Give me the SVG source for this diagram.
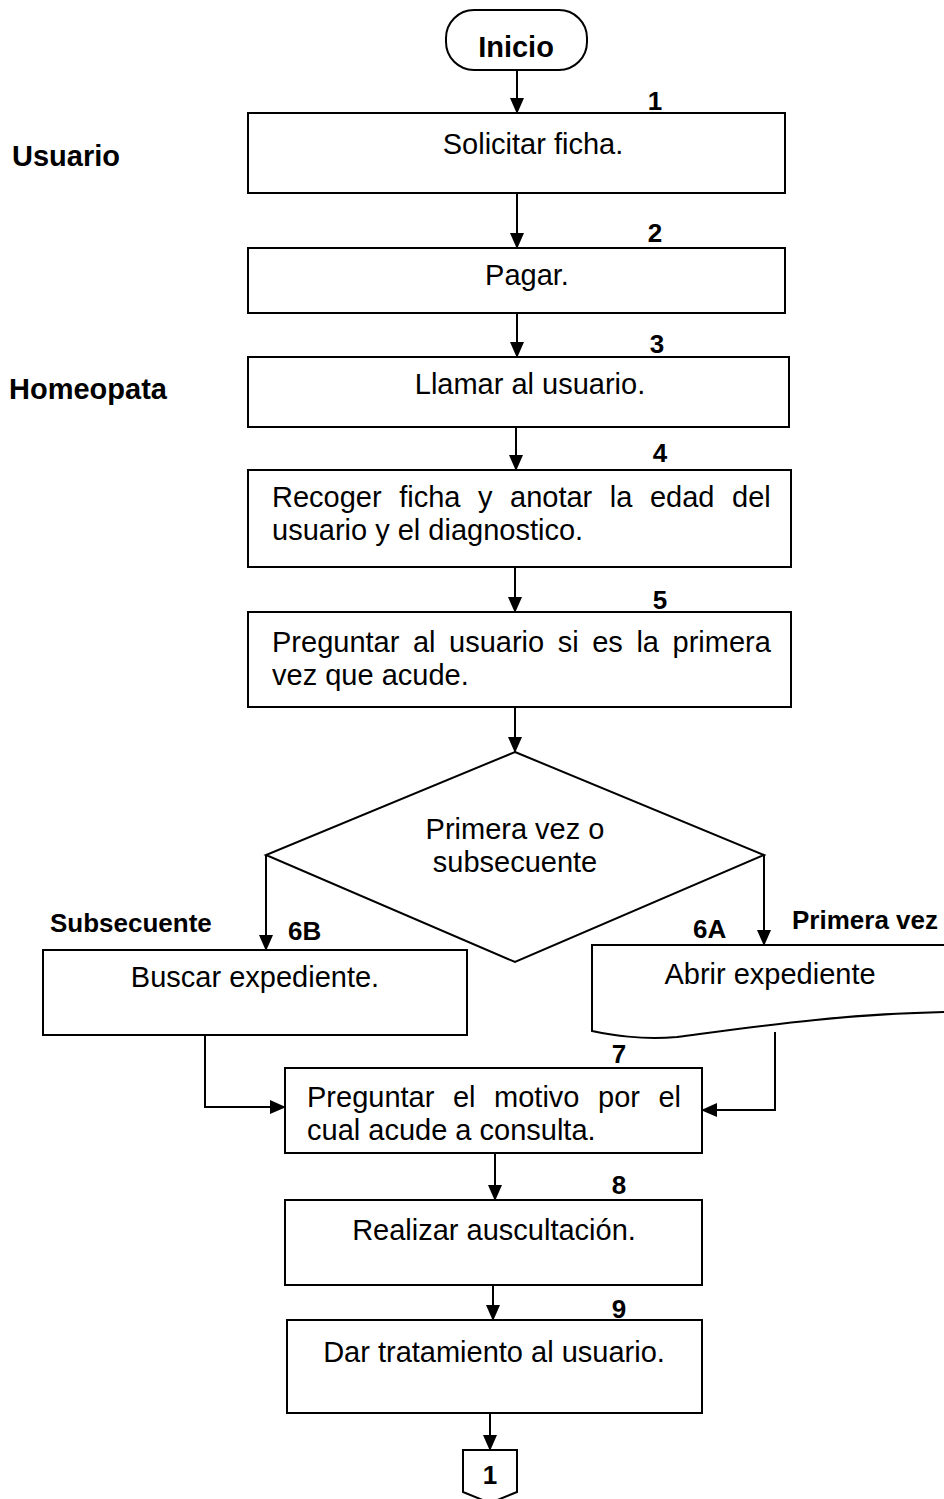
<svg xmlns="http://www.w3.org/2000/svg" width="944" height="1499" viewBox="0 0 944 1499">
<defs>
<marker id="arr" markerWidth="14" markerHeight="16" refX="15" refY="7" orient="auto" markerUnits="userSpaceOnUse">
<path d="M0,0 L16,7 L0,14 Z" fill="#000"/>
</marker>
<style>
.box{fill:#fff;stroke:#000;stroke-width:2}
.t{font-family:"Liberation Sans",Arial,sans-serif;font-size:29px;fill:#000}
.m{text-anchor:middle}
.b{font-family:"Liberation Sans",Arial,sans-serif;font-size:29px;font-weight:bold;fill:#000}
.n{font-size:26px}
.c{fill:none;stroke:#000;stroke-width:2}
</style>
</defs>
<rect width="944" height="1499" fill="#fff"/>

<g id="lanes">
<text class="b" x="12" y="166">Usuario</text>
<text class="b" x="9" y="399">Homeopata</text>
</g>

<g id="inicio">
<rect class="box" x="446" y="10" width="141" height="60" rx="28" ry="28"/>
<text class="b m" x="516" y="57">Inicio</text>
</g>

<g id="n1">
<rect class="box" x="248" y="113" width="537" height="80"/>
<text class="b m n" x="655" y="110">1</text>
<text class="t m" x="533" y="154">Solicitar ficha.</text>
</g>

<g id="n2">
<rect class="box" x="248" y="248" width="537" height="65"/>
<text class="b m n" x="655" y="242">2</text>
<text class="t m" x="527" y="285">Pagar.</text>
</g>

<g id="n3">
<rect class="box" x="248" y="357" width="541" height="70"/>
<text class="b m n" x="657" y="353">3</text>
<text class="t m" x="530" y="394">Llamar al usuario.</text>
</g>

<g id="n4">
<rect class="box" x="248" y="470" width="543" height="97"/>
<text class="b m n" x="660" y="462">4</text>
<text class="t" x="272" y="507" style="word-spacing:9.5px">Recoger ficha y anotar la edad del</text>
<text class="t" x="272" y="540">usuario y el diagnostico.</text>
</g>

<g id="n5">
<rect class="box" x="248" y="612" width="543" height="95"/>
<text class="b m n" x="660" y="609">5</text>
<text class="t" x="272" y="652" style="word-spacing:5.5px">Preguntar al usuario si es la primera</text>
<text class="t" x="272" y="685">vez que acude.</text>
</g>

<g id="decision">
<polygon class="box" points="515,752 764,855 515,962 266,855"/>
<text class="t m" x="515" y="839">Primera vez o</text>
<text class="t m" x="515" y="872">subsecuente</text>
</g>

<g id="n6b">
<rect class="box" x="43" y="950" width="424" height="85"/>
<text class="b" x="50" y="932" style="font-size:26px">Subsecuente</text>
<text class="b n" x="288" y="940">6B</text>
<text class="t m" x="255" y="987">Buscar expediente.</text>
</g>

<g id="n6a">
<path class="box" d="M592,945 H950 V1012 C840,1014 760,1026 677,1037 C640,1040 612,1035 592,1031 Z"/>
<text class="b n" x="693" y="938">6A</text>
<text class="b" x="792" y="929" style="font-size:26px">Primera vez</text>
<text class="t m" x="770" y="984">Abrir expediente</text>
</g>

<g id="n7">
<rect class="box" x="285" y="1068" width="417" height="85"/>
<text class="b m n" x="619" y="1063">7</text>
<text class="t" x="307" y="1107" style="word-spacing:10.5px">Preguntar el motivo por el</text>
<text class="t" x="307" y="1140">cual acude a consulta.</text>
</g>

<g id="n8">
<rect class="box" x="285" y="1200" width="417" height="85"/>
<text class="b m n" x="619" y="1194">8</text>
<text class="t m" x="494" y="1240">Realizar auscultación.</text>
</g>

<g id="n9">
<rect class="box" x="287" y="1320" width="415" height="93"/>
<text class="b m n" x="619" y="1318">9</text>
<text class="t m" x="494" y="1362">Dar tratamiento al usuario.</text>
</g>

<g id="offpage">
<path class="box" d="M463,1450 H517 V1492 L490,1503 L463,1492 Z"/>
<text class="b m n" x="490" y="1484">1</text>
</g>

<g id="connectors">
<line class="c" x1="517" y1="70" x2="517" y2="113" marker-end="url(#arr)"/>
<line class="c" x1="517" y1="193" x2="517" y2="248" marker-end="url(#arr)"/>
<line class="c" x1="517" y1="313" x2="517" y2="357" marker-end="url(#arr)"/>
<line class="c" x1="516" y1="427" x2="516" y2="470" marker-end="url(#arr)"/>
<line class="c" x1="515" y1="567" x2="515" y2="612" marker-end="url(#arr)"/>
<line class="c" x1="515" y1="707" x2="515" y2="752" marker-end="url(#arr)"/>
<line class="c" x1="266" y1="855" x2="266" y2="950" marker-end="url(#arr)"/>
<line class="c" x1="764" y1="855" x2="764" y2="945" marker-end="url(#arr)"/>
<polyline class="c" points="205,1035 205,1107 285,1107" marker-end="url(#arr)"/>
<polyline class="c" points="775,1032 775,1110 702,1110" marker-end="url(#arr)"/>
<line class="c" x1="495" y1="1153" x2="495" y2="1200" marker-end="url(#arr)"/>
<line class="c" x1="493" y1="1285" x2="493" y2="1320" marker-end="url(#arr)"/>
<line class="c" x1="490" y1="1413" x2="490" y2="1450" marker-end="url(#arr)"/>
</g>
</svg>
